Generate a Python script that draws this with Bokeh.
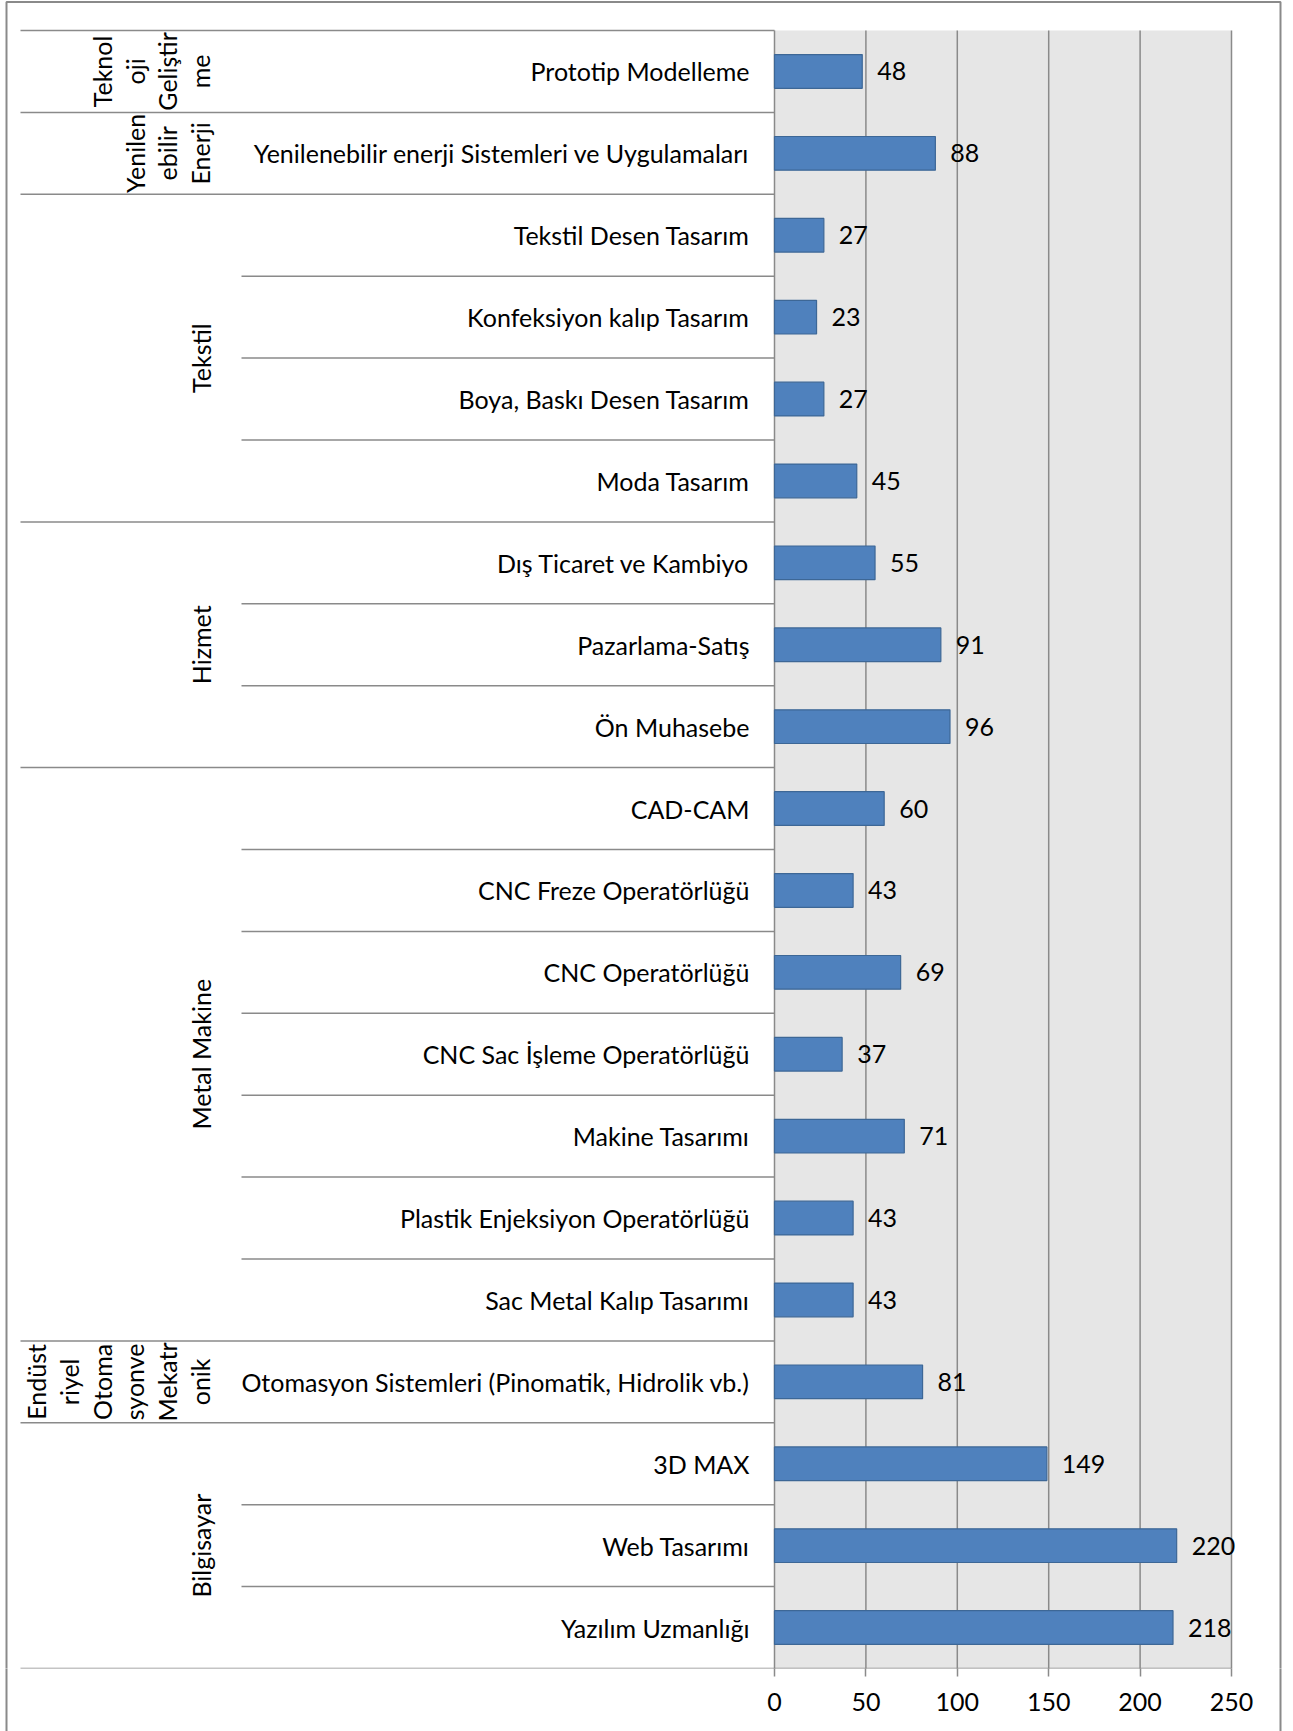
import math

from bokeh.core.properties import value
from bokeh.embed import file_html
from bokeh.models import ColumnDataSource, FixedTicker, Range1d
from bokeh.plotting import figure
from bokeh.resources import INLINE

# ---- data -------------------------------------------------------------
programs = [
    "Prototip Modelleme",
    "Yenilenebilir enerji Sistemleri ve Uygulamaları",
    "Tekstil Desen Tasarım",
    "Konfeksiyon kalıp Tasarım",
    "Boya, Baskı Desen Tasarım",
    "Moda Tasarım",
    "Dış Ticaret ve Kambiyo",
    "Pazarlama-Satış",
    "Ön Muhasebe",
    "CAD-CAM",
    "CNC Freze Operatörlüğü",
    "CNC Operatörlüğü",
    "CNC Sac İşleme Operatörlüğü",
    "Makine Tasarımı",
    "Plastik Enjeksiyon Operatörlüğü",
    "Sac Metal Kalıp Tasarımı",
    "Otomasyon Sistemleri (Pinomatik, Hidrolik vb.)",
    "3D MAX",
    "Web Tasarımı",
    "Yazılım Uzmanlığı",
]
counts = [48, 88, 27, 23, 27, 45, 55, 91, 96, 60, 43, 69, 37, 71, 43, 43, 81, 149, 220, 218]

# sector names, as wrapped in their narrow column
sectors = [
    "Teknol\noji\nGeliştir\nme",
    "Yenilen\nebilir\nEnerji",
    "Tekstil",
    "Hizmet",
    "Metal Makine",
    "Endüst\nriyel\nOtoma\nsyonve\nMekatr\nonik",
    "Bilgisayar",
]
sector_sizes = [1, 1, 4, 3, 7, 1, 3]

x_ticks = [0, 50, 100, 150, 200, 250]

# ---- page geometry (pixels) -------------------------------------------
W, H = 1293, 1731
AXIS_PX = 63                 # space under the plot frame for the value axis
FRAME_H = H - AXIS_PX
X0_PX, X_PER_UNIT = 774, 457 / 250
Y0_PX = 30
BAND_PX = (FRAME_H - Y0_PX) / len(programs)


def xd(px):
    return (px - X0_PX) / X_PER_UNIT


def yd(px):
    return (px - Y0_PX) / BAND_PX


FONT = "Lato"
FS = 25
GRAY = "#8a8a8a"
n = len(programs)

p = figure(
    width=W, height=H,
    x_range=Range1d(xd(0), xd(W)),
    y_range=Range1d(yd(FRAME_H), yd(0)),
    output_backend="svg", toolbar_location=None,
    y_axis_location=None, x_axis_location="below",
    min_border_left=0, min_border_right=0, min_border_top=0,
    min_border_bottom=AXIS_PX,
)
p.outline_line_color = None
p.background_fill_color = "white"
p.border_fill_color = "white"
p.grid.visible = False

# value axis; its minor ticks carry the chart border down to the page edge
ax = p.xaxis[0]
ax.ticker = FixedTicker(ticks=x_ticks, minor_ticks=[xd(6), xd(1280)])
ax.axis_line_color = None
ax.major_tick_in = 0
ax.major_tick_out = 8
ax.major_tick_line_color = GRAY
ax.major_tick_line_width = 1.5
ax.minor_tick_in = 0
ax.minor_tick_out = AXIS_PX
ax.minor_tick_line_color = GRAY
ax.minor_tick_line_width = 2
ax.major_label_text_font = FONT
ax.major_label_text_font_size = f"{FS}px"
ax.major_label_text_color = "black"
ax.major_label_standoff = -(AXIS_PX - 24)

# plot area background and vertical gridlines
p.quad(left=[x_ticks[0]], right=[x_ticks[-1]], top=[0], bottom=[n],
       fill_color="#e6e6e6", line_color=None)
p.segment(x0=x_ticks, x1=x_ticks, y0=[0] * len(x_ticks),
          y1=[n + 8 / BAND_PX] * len(x_ticks),
          line_color=GRAY, line_width=1.5)

# bars and value labels
src = ColumnDataSource(dict(
    y=[i + 0.5 for i in range(n)],
    v=counts,
    name=programs,
    lab=[str(c) for c in counts],
))
p.hbar(y="y", right="v", left=0, height=33.7 / BAND_PX, source=src,
       fill_color="#4f81bd", line_color="#3d6796", line_width=1.2)
p.text(x="v", y="y", text="lab", source=src, x_offset=15,
       text_font=value(FONT), text_font_size=f"{FS}px", text_color="black",
       text_align="left", text_baseline="middle")

# programme names, right-aligned against the axis
p.text(x=xd(749), y="y", text="name", source=src,
       text_font=value(FONT), text_font_size=f"{FS}px", text_color="black",
       text_align="right", text_baseline="middle")

# row separators: full width at sector boundaries, shorter inside a sector
bounds = [0]
for s in sector_sizes:
    bounds.append(bounds[-1] + s)
inner = [i for i in range(n + 1) if i not in bounds]
p.segment(x0=[xd(20)] * len(bounds), x1=[0] * len(bounds), y0=bounds, y1=bounds,
          line_color=GRAY, line_width=1.5)
p.segment(x0=[xd(241)] * len(inner), x1=[0] * len(inner), y0=inner, y1=inner,
          line_color=GRAY, line_width=1.5)
p.segment(x0=[0], x1=[x_ticks[-1]], y0=[n], y1=[n], line_color=GRAY, line_width=1.5)

# sector names, rotated, last line kept on a common column
LINE_PX = 33
sec_y = [(bounds[k] + bounds[k + 1]) / 2 for k in range(len(sectors))]
sec_off = [-(s.count("\n")) * LINE_PX / 2 for s in sectors]
p.text(x=xd(200), y=sec_y, text=sectors, x_offset=sec_off, angle=math.pi / 2,
       text_font=value(FONT), text_font_size=f"{FS}px", text_color="black",
       text_align="center", text_baseline="middle",
       text_line_height=LINE_PX / (1.21 * FS))

# chart border
p.multi_line(xs=[[xd(6), xd(6), xd(1280), xd(1280)]],
             ys=[[yd(FRAME_H), yd(1.5), yd(1.5), yd(FRAME_H)]],
             line_color=GRAY, line_width=2)

open("out.html", "w").write(file_html(p, INLINE))
